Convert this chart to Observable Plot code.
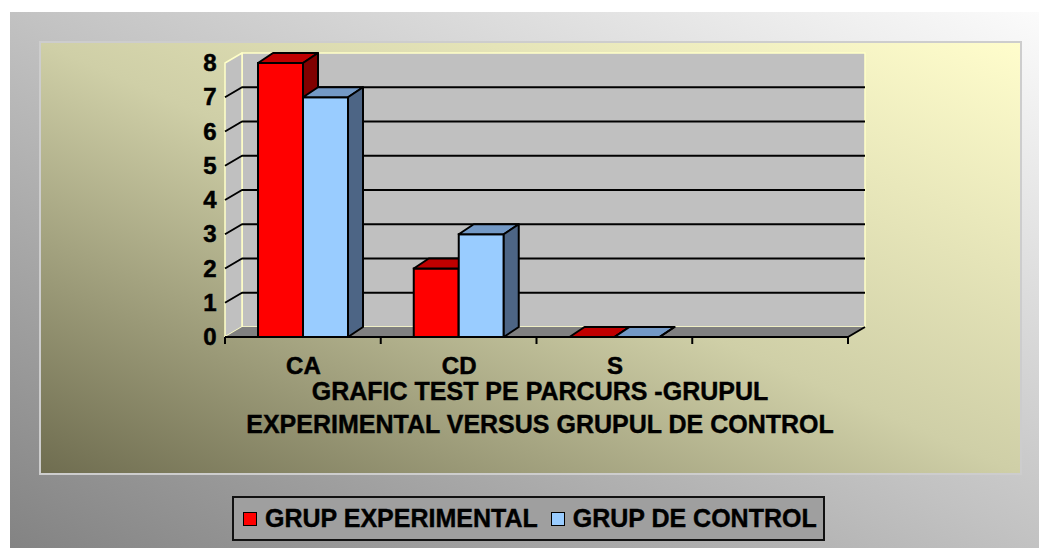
<!DOCTYPE html>
<html>
<head>
<meta charset="utf-8">
<script src="https://cdn.jsdelivr.net/npm/d3@7"></script>
<script src="https://cdn.jsdelivr.net/npm/@observablehq/plot@0.6"></script>
<style>
  html, body { margin: 0; padding: 0; }
  body { width: 1039px; height: 548px; position: relative; overflow: hidden; background: #ffffff;
         font-family: "Liberation Sans", Arial, sans-serif; font-weight: bold; color: #000; }
  #outer { position: absolute; left: 10px; top: 12px; width: 1029px; height: 536px;
           background: linear-gradient(to top right, #838383 0%, #c2c2c2 50%, #fbfbfb 100%); }
  #panel { position: absolute; left: 39px; top: 41px; width: 983px; height: 434px; box-sizing: border-box;
           border: 2px solid #cdcdcd;
           background: linear-gradient(to top right, #6f6d50 0%, #cfcfa7 50%, #fffdcc 100%); }
  #chart { position: absolute; left: 39px; top: 41px; width: 983px; height: 340px; }
  #chart svg { background: transparent !important; max-width: none !important; }
  #chart svg text { stroke: #000; stroke-width: 0.5px; }
  #title { position: absolute; left: 140px; top: 375px; width: 800px; text-align: center;
           font-size: 25px; line-height: 33px; -webkit-text-stroke: 0.4px #000; }
  #legend { position: absolute; left: 232px; top: 496px; width: 593px; height: 45px; box-sizing: border-box;
            border: 2px solid #111; background: #9f9f9f; display: flex; align-items: center;
            padding-left: 9px; font-size: 25px; white-space: nowrap; -webkit-text-stroke: 0.4px #000; }
  .sw { width: 12px; height: 12px; border: 1px solid #000; flex: none; }
</style>
</head>
<body>
<div id="outer"></div>
<div id="panel"></div>
<div id="chart"></div>
<div id="title"></div>
<div id="legend"></div>
<script>
// ---- data ----
const categories = ["CA", "CD", "S"];
const xSlots = ["CA", "CD", "S", ""];          // the axis has one empty slot at the right
const seriesNames = ["GRUP EXPERIMENTAL", "GRUP DE CONTROL"];
const experimental = [8, 2, 0];
const control = [7, 3, 0];
const yTicks = [0, 1, 2, 3, 4, 5, 6, 7, 8];
const titleLines = ["GRAFIC TEST PE PARCURS -GRUPUL", "EXPERIMENTAL VERSUS GRUPUL DE CONTROL"];

// ---- styles ----
const frontColors = ["#ff0000", "#99ccff"];
const topColors = ["#c00000", "#7399c6"];
const sideColors = ["#800000", "#4d6585"];

const W = 983, H = 340, ML = 186, MR = 174, MT = 22, MB = 44;
const BW = (W - ML - MR) / xSlots.length;
const GAP = 33, BAR_W = 45;
const WDX = 17, WDY = 10;   // wall depth (px)
const BDX = 15, BDY = 10;   // bar depth (px)

const rowsFor = (vals) => categories.map((c, i) => ({cat: c, value: vals[i]}));
const series = [rowsFor(experimental), rowsFor(control)];

function polygon(g, pts, fill, stroke, sw) {
  g.append("polygon")
    .attr("points", pts.map(p => p.join(",")).join(" "))
    .attr("fill", fill)
    .attr("stroke", stroke || "none")
    .attr("stroke-width", sw || 0)
    .attr("stroke-linejoin", "round");
}
function polyline(g, pts, stroke, sw) {
  g.append("polyline")
    .attr("points", pts.map(p => p.join(",")).join(" "))
    .attr("fill", "none").attr("stroke", stroke).attr("stroke-width", sw)
    .attr("stroke-linejoin", "round");
}

function walls(index, scales) {
  const {x, y} = scales;
  const bw = x.bandwidth ? x.bandwidth() : BW;
  const xl = x(xSlots[0]), xr = x(xSlots[xSlots.length - 1]) + bw;
  const yMax = d3.max(yTicks);
  const y0 = y(0), yT = y(yMax);
  const g = d3.create("svg:g");
  // back wall
  polygon(g, [[xl + WDX, yT - WDY], [xr + WDX, yT - WDY], [xr + WDX, y0 - WDY], [xl + WDX, y0 - WDY]], "#c0c0c0", "#ffffc8", 1.5);
  // side wall
  polygon(g, [[xl, y0], [xl, yT], [xl + WDX, yT - WDY], [xl + WDX, y0 - WDY]], "#c0c0c0", "#ffffc8", 1.5);
  // gridlines
  for (const v of yTicks) {
    if (v <= 0 || v >= yMax) continue;
    polyline(g, [[xl, y(v)], [xl + WDX, y(v) - WDY], [xr + WDX, y(v) - WDY]], "#000", 2);
  }
  // floor
  polygon(g, [[xl, y0], [xr, y0], [xr + WDX, y0 - WDY], [xl + WDX, y0 - WDY]], "#808080");
  polyline(g, [[xl, y0], [xr, y0], [xr + WDX, y0 - WDY]], "#000", 2);
  // category ticks at slot boundaries
  for (let i = 0; i <= xSlots.length; i++) {
    const xx = xl + i * bw;
    polyline(g, [[xx, y0], [xx, y0 + 7]], "#000", 2);
  }
  return g.node();
}

function faces(rows, s, insetL) {
  return (index, scales) => {
    const {x, y} = scales;
    const g = d3.create("svg:g");
    for (const r of rows) {
      const xa = x(r.cat) + insetL, xb = xa + BAR_W;
      const yv = y(r.value), y0 = y(0);
      polygon(g, [[xa, yv], [xb, yv], [xb + BDX, yv - BDY], [xa + BDX, yv - BDY]], topColors[s], "#000", 2);
      polygon(g, [[xb, yv], [xb, y0], [xb + BDX, y0 - BDY], [xb + BDX, yv - BDY]], sideColors[s], "#000", 2);
    }
    return g.node();
  };
}

const marks = [walls];
series.forEach((rows, s) => {
  const insetL = GAP + s * BAR_W;
  const insetR = BW - insetL - BAR_W;
  marks.push(Plot.barY(rows, {x: "cat", y: "value", fill: frontColors[s], stroke: "#000", strokeWidth: 2,
                              insetLeft: insetL, insetRight: insetR}));
  marks.push(faces(rows, s, insetL));
});
marks.push(Plot.text(yTicks, {y: d => d, text: d => String(d), frameAnchor: "left", textAnchor: "end",
                              dx: -9, fontSize: 24, fontWeight: "bold", fill: "#000"}));
marks.push(Plot.text(categories, {x: d => d, text: d => d, frameAnchor: "bottom", lineAnchor: "top",
                                  dy: 19, fontSize: 24, fontWeight: "bold", fill: "#000"}));

const chart = Plot.plot({
  width: W, height: H,
  marginLeft: ML, marginRight: MR, marginTop: MT, marginBottom: MB,
  x: {type: "band", domain: xSlots, padding: 0, round: false, axis: null},
  y: {domain: [0, d3.max(yTicks)], axis: null},
  style: {background: "transparent", fontFamily: "'Liberation Sans', Arial, sans-serif", overflow: "visible"},
  marks
});
document.getElementById("chart").appendChild(chart);

// title
const t = document.getElementById("title");
titleLines.forEach(l => { const d = document.createElement("div"); d.textContent = l; t.appendChild(d); });

// legend
const lg = document.getElementById("legend");
seriesNames.forEach((n, i) => {
  const sw = document.createElement("span");
  sw.className = "sw"; sw.style.background = frontColors[i];
  if (i > 0) sw.style.marginLeft = "13px";
  const tx = document.createElement("span");
  tx.textContent = n; tx.style.marginLeft = "8px";
  lg.appendChild(sw); lg.appendChild(tx);
});
</script>
</body>
</html>
